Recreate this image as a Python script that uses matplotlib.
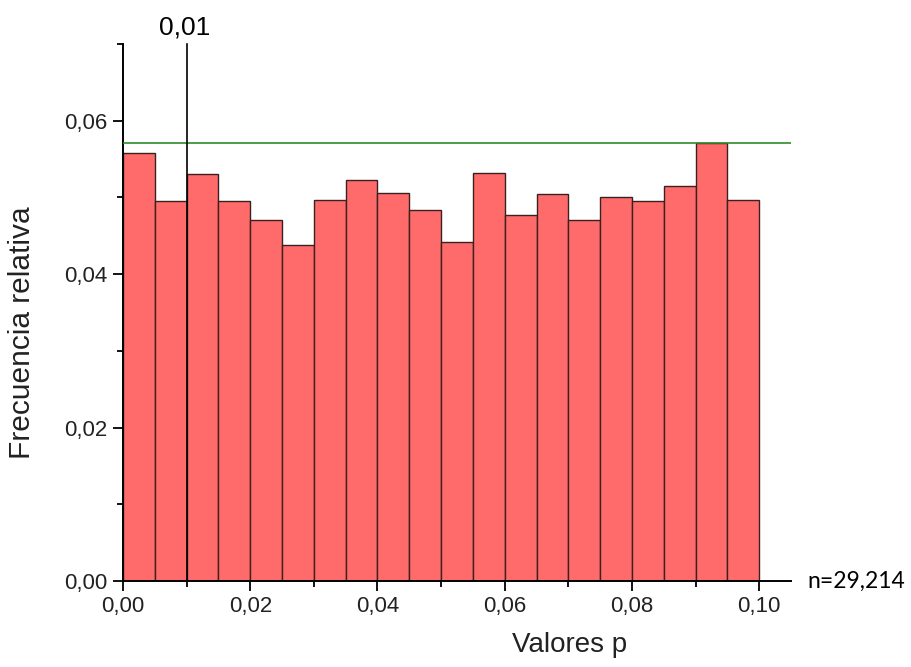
import matplotlib
matplotlib.use("Agg")
import matplotlib.pyplot as plt
from matplotlib.ticker import FuncFormatter, MultipleLocator

plt.rcParams['font.family'] = ['Liberation Sans', 'DejaVu Sans']

# bin edges start at 0, each bin is 0.005 wide
bin_width = 0.005
bin_starts = [i * bin_width for i in range(20)]
rel_freq = [0.0558, 0.0495, 0.0530, 0.0495, 0.0471, 0.0438, 0.0497, 0.0523,
            0.0506, 0.0484, 0.0442, 0.0532, 0.0477, 0.0504, 0.0471, 0.0501,
            0.0495, 0.0515, 0.0571, 0.0497]
max_line = 0.0571
cutoff = 0.01
n_label = "n=29,214"

fig = plt.figure(figsize=(9.12, 6.67), dpi=100)
ax = fig.add_axes([0.1349, 0.129, 0.7324, 0.805])

ax.bar(bin_starts, rel_freq, width=bin_width, align='edge',
       color='#ff6b6b', edgecolor='#3a2020', linewidth=1.0, zorder=2)
ax.axhline(max_line, color='#2e8b2e', linewidth=1.2, zorder=3)
ax.plot([cutoff, cutoff], [0, 0.07], color='black', linewidth=1.2,
        clip_on=False, zorder=4)
ax.text(cutoff - 0.0003, 0.0713, "0,01", ha='center', va='baseline', fontsize=19)

ax.set_xlim(0, 0.105)
ax.set_ylim(0, 0.07)

comma = FuncFormatter(lambda v, p: ("%.2f" % v).replace('.', ','))
ax.xaxis.set_major_locator(MultipleLocator(0.02))
ax.xaxis.set_minor_locator(MultipleLocator(0.01))
ax.yaxis.set_major_locator(MultipleLocator(0.02))
ax.yaxis.set_minor_locator(MultipleLocator(0.01))
ax.xaxis.set_major_formatter(comma)
ax.yaxis.set_major_formatter(comma)

for s in ['top', 'right']:
    ax.spines[s].set_visible(False)
for s in ['left', 'bottom']:
    ax.spines[s].set_linewidth(1.4)

ax.tick_params(which='major', direction='out', length=7, width=1.3,
               labelsize=16, pad=4, labelcolor='#222222')
ax.tick_params(which='minor', direction='out', length=4, width=1.3)

ax.set_xlabel("Valores p", fontsize=20, color='#222222')
ax.set_ylabel("Frecuencia relativa", fontsize=21.5, color='#222222')
ax.xaxis.set_label_coords(0.669, -0.095)
ax.yaxis.set_label_coords(-0.131, 0.462)

ax.text(0.1075, 0.0, n_label, ha='left', va='center', fontsize=16.5,
        family=['Lato', 'DejaVu Sans'])

fig.savefig("out.png", dpi=100)
